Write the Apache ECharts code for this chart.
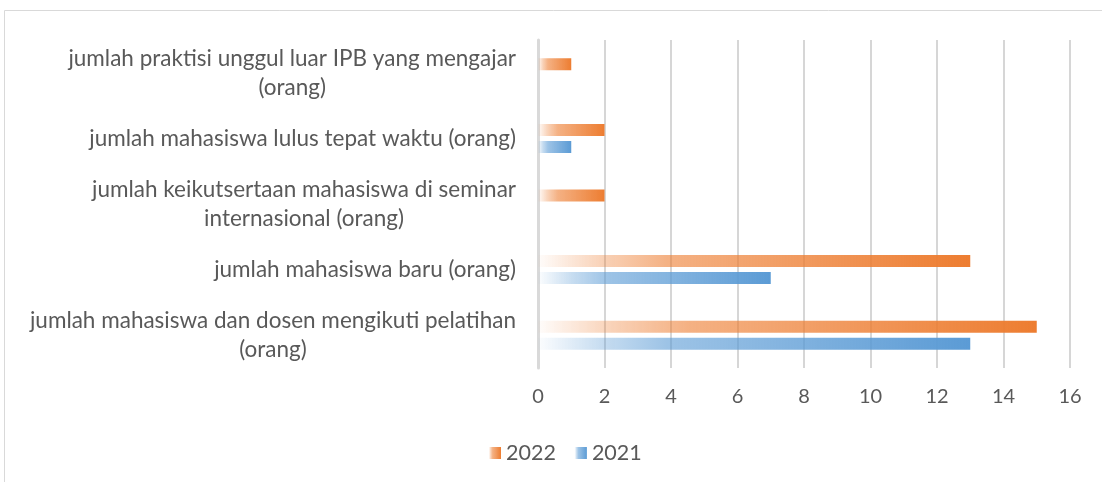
<!DOCTYPE html>
<html>
<head>
<meta charset="utf-8">
<script src="https://cdn.jsdelivr.net/npm/echarts@6/dist/echarts.min.js"></script>
<style>
  html, body { margin: 0; padding: 0; background: #fff; }
  #main { width: 1102px; height: 482px; }
</style>
</head>
<body>
<div id="main"></div>
<script>
// kategori dari bawah ke atas (urutan sumbu y ECharts)
var categories = [
  'jumlah mahasiswa dan dosen mengikuti pelatihan\n(orang)',
  'jumlah mahasiswa baru (orang)',
  'jumlah keikutsertaan mahasiswa di seminar\ninternasional (orang)',
  'jumlah mahasiswa lulus tepat waktu (orang)',
  'jumlah praktisi unggul luar IPB yang mengajar\n(orang)'
];
var values2022 = [15, 13, 2, 2, 1];
var values2021 = [13, 7, null, 1, null];
var xTicks = [0, 2, 4, 6, 8, 10, 12, 14, 16];

var FONT = 'Lato';
var TEXT = '#595959';

function fade(r, g, b) {
  // putih di kiri, warna penuh di ujung batang
  return new echarts.graphic.LinearGradient(0, 0, 1, 0, [
    { offset: 0, color: 'rgba(' + r + ',' + g + ',' + b + ',0.02)' },
    { offset: 0.15, color: 'rgba(' + r + ',' + g + ',' + b + ',0.35)' },
    { offset: 0.3, color: 'rgba(' + r + ',' + g + ',' + b + ',0.6)' },
    { offset: 1, color: 'rgba(' + r + ',' + g + ',' + b + ',1)' }
  ]);
}

var chart = echarts.init(document.getElementById('main'), null, { renderer: 'canvas' });

var option = {
  animation: false,
  graphic: [{
    type: 'rect',
    shape: { x: 4.5, y: 10.5, width: 1200, height: 600 },
    style: { fill: 'none', stroke: '#d9d9d9', lineWidth: 1 },
    silent: true
  }],
  grid: { left: 538, right: 32, top: 40, bottom: 114, containLabel: false },
  legend: {
    data: ['2022', '2021'],
    bottom: 13,
    left: 484,
    itemWidth: 12,
    itemHeight: 12,
    itemGap: 19,
    icon: 'rect',
    textStyle: { color: TEXT, fontFamily: FONT, fontSize: 21.5 }
  },
  xAxis: {
    type: 'value',
    min: xTicks[0],
    max: xTicks[xTicks.length - 1],
    interval: 2,
    axisLine: { show: false },
    axisTick: { show: false },
    axisLabel: { color: TEXT, fontFamily: FONT, fontSize: 20, margin: 19 },
    splitLine: { lineStyle: { color: '#c8c8c8', width: 1.5 } }
  },
  yAxis: {
    type: 'category',
    data: categories,
    axisLine: { show: true, lineStyle: { color: '#d9d9d9', width: 3 } },
    axisTick: { show: false },
    axisLabel: {
      margin: 22,
      formatter: function (v) {
        return v.split('\n').map(function (l) { return '{c|' + l + '}'; }).join('\n');
      },
      rich: {
        c: { align: 'center', color: TEXT, fontFamily: FONT, fontSize: 22.5, lineHeight: 29 }
      }
    }
  },
  series: [
    {
      name: '2022',
      type: 'bar',
      data: values2022,
      barWidth: 12,
      barGap: '42%',
      itemStyle: { color: fade(237, 125, 49) }
    },
    {
      name: '2021',
      type: 'bar',
      data: values2021,
      barWidth: 12,
      barGap: '42%',
      itemStyle: { color: fade(91, 155, 213) }
    }
  ]
};

chart.setOption(option);
</script>
</body>
</html>
